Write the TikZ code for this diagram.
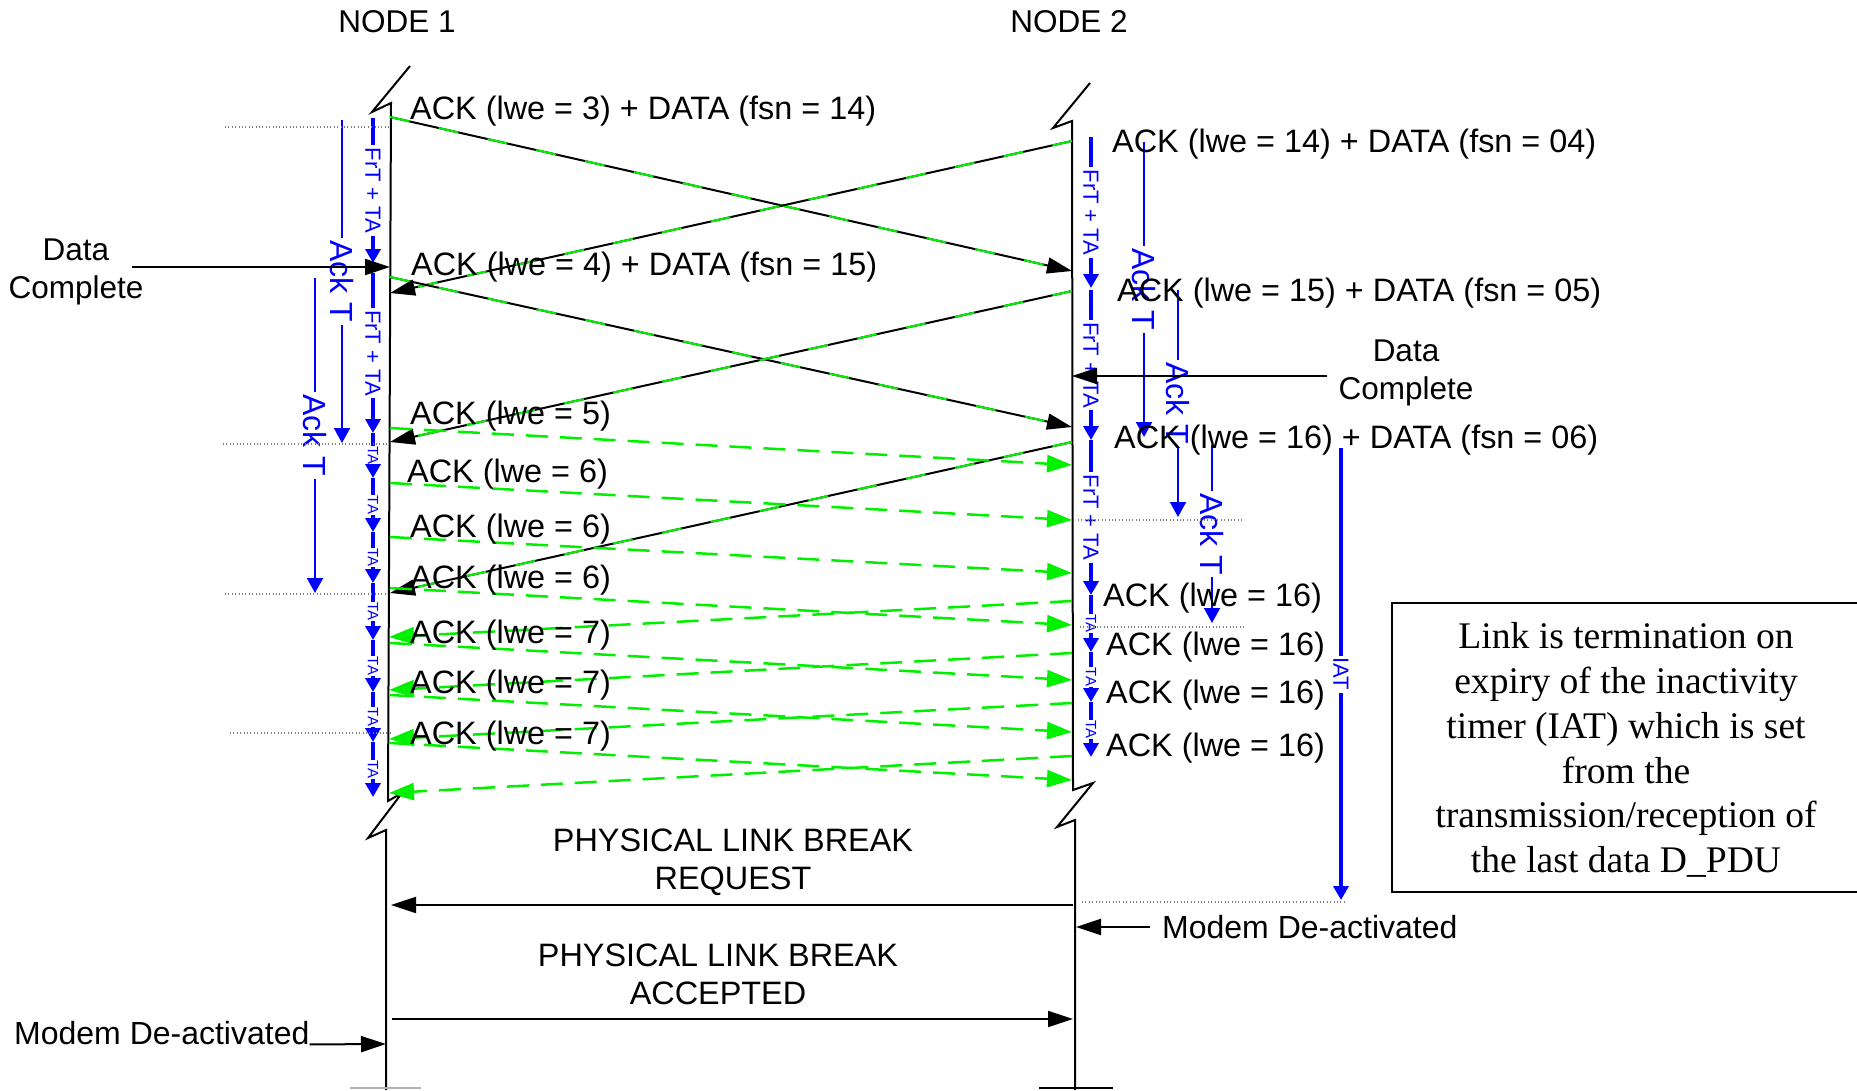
\documentclass[tikz,border=0pt]{standalone}
\usepackage{fontspec}
\setmainfont{Liberation Sans}
\newfontfamily\notefont{Liberation Serif}
\usetikzlibrary{arrows.meta}

\definecolor{tgreen}{RGB}{0,240,0}
\definecolor{tblue}{RGB}{0,0,255}

\begin{document}
\begin{tikzpicture}[x=1pt, y=-1pt,
  every node/.style={inner sep=0pt},
  lbl/.style={font=\fontsize{32.4}{38}\selectfont, anchor=west},
  ackl/.style={lbl, yshift=-3pt},
  head/.style={font=\fontsize{31.5}{38}\selectfont},
  life/.style={line width=2pt},
  msg/.style={line width=2pt, -{Triangle[length=25pt,width=16pt]}},
  mixg/.style={line width=2pt, tgreen, dash pattern=on 20pt off 30pt, shorten >=27pt},
  gmsg/.style={line width=2.5pt, tgreen, dash pattern=on 22pt off 12pt, -{Triangle[length=25pt,width=17pt]}},
  tmr/.style={line width=3.5pt, tblue},
  tmrtip/.style={tmr, -{Triangle[length=14pt,width=15pt]}},
  frt/.style={font=\fontsize{22}{24}\selectfont, text=tblue, rotate=-90, inner sep=2pt},
  ta/.style={font=\fontsize{15}{16}\selectfont, text=tblue, rotate=-90, inner sep=0.5pt},
  ackt/.style={line width=2pt, tblue},
  acktip/.style={ackt, -{Triangle[length=15pt,width=16pt]}},
  acklbl/.style={font=\fontsize{32}{38}\selectfont, text=tblue, rotate=-90, inner sep=2pt},
  dotline/.style={gray, line width=1.2pt, dash pattern=on 1pt off 2.4pt},
]
  \useasboundingbox (0,0) rectangle (1857,1090);

  % headings
  \node[head] (n1) at (397,22) {NODE 1};
  \node[head] (n2) at (1069,22) {NODE 2};

  % lifelines with the two breaks, y downward
  \draw[life] (410,66) -- (372,112) -- (391,103) -- (388,801) -- (402,793)
    -- (368,838) -- (386,830) -- (386,1090);
  \draw[life] (1090,83) -- (1053,128) -- (1072,121) -- (1073,790) -- (1093,783)
    -- (1057,827) -- (1075,820) -- (1075,1090);
  \draw[line width=2pt, gray!60] (350,1088) -- (421,1088);
  \draw[line width=2.5pt] (1039,1088) -- (1113,1088);

  % frame + ack timers
  \foreach \nm/\x/\ya/\yb/\txt in {fa/373/118/263/{FrT + TA}, fb/373/273/433/{FrT + TA},
      fc/1091/137/288/{FrT + TA}, fd/1091/290/440/{FrT + TA}, fe/1091/440/595/{FrT + TA},
      iat/1341/448/900/IAT}
  {
    \coordinate (\nm-top) at (\x,\ya);
    \coordinate (\nm-tip) at (\x,\yb);
    \node[frt] (\nm) at (\x,{(\ya+\yb)/2}) {\txt};
    \draw[tmr] (\nm-top) -- (\nm.west);
    \draw[tmrtip] (\nm.east) -- (\nm-tip);
  }
  \foreach \nm/\x/\ya/\yb in {ta1/373/433/478, ta2/373/478/532, ta3/373/532/583,
      ta4/373/583/640, ta5/373/640/692, ta6/373/692/742, ta7/373/742/797,
      tb1/1091/595/652, tb2/1091/652/702, tb3/1091/702/757}
  {
    \coordinate (\nm-top) at (\x,\ya);
    \coordinate (\nm-tip) at (\x,\yb);
    \node[ta] (\nm) at (\x,{(\ya+\yb)/2}) {TA};
    \draw[tmr] (\nm-top) -- (\nm.west);
    \draw[tmrtip] (\nm.east) -- (\nm-tip);
  }
  \foreach \nm/\x/\ya/\yb in {ak1/342/120/443, ak2/315/278/593,
      ak3/1144/142/437, ak4/1178/290/517, ak5/1212/445/623}
  {
    \coordinate (\nm-top) at (\x,\ya);
    \coordinate (\nm-tip) at (\x,\yb);
    \node[acklbl] (\nm) at (\x,{(\ya+\yb)/2}) {Ack T};
    \draw[ackt] (\nm-top) -- (\nm.west);
    \draw[acktip] (\nm.east) -- (\nm-tip);
  }

  % data + ack frames crossing
  \foreach \nm/\xa/\ya/\xb/\yb in {m1/390/117/1072/271, m2/1072/141/390/293,
      m3/390/277/1072/427, m4/1072/291/390/442, m5/1072/442/390/593}
  {
    \coordinate (\nm-s) at (\xa,\ya);
    \coordinate (\nm-e) at (\xb,\yb);
    \draw[msg] (\nm-s) -- (\nm-e);
    \draw[mixg] (\nm-s) -- (\nm-e);
  }

  % ack only frames
  \foreach \i/\ya/\yb in {1/428/465, 2/483/520, 3/537/573, 4/588/625,
      5/643/680, 6/695/732, 7/743/780}
  {
    \coordinate (gs\i) at (390,\ya);
    \coordinate (ge\i) at (1072,\yb);
    \draw[gmsg] (gs\i) -- (ge\i);
  }
  \foreach \i/\ya/\yb in {1/601/637, 2/653/690, 3/703/739, 4/756/793}
  {
    \coordinate (hs\i) at (1072,\ya);
    \coordinate (he\i) at (389,\yb);
    \draw[gmsg] (hs\i) -- (he\i);
  }

  % frame labels
  \node[ackl] (l3) at (410,108) {ACK (lwe = 3) + DATA (fsn = 14)};
  \node[ackl] (l4) at (411,264) {ACK (lwe = 4) + DATA (fsn = 15)};
  \node[ackl] (l5) at (410,413) {ACK (lwe = 5)};
  \foreach \nm/\x/\y in {l6a/407/471, l6b/410/526, l6c/410/577}
    \node[ackl] (\nm) at (\x,\y) {ACK (lwe = 6)};
  \foreach \nm/\y in {l7a/632, l7b/682, l7c/733}
    \node[ackl] (\nm) at (410,\y) {ACK (lwe = 7)};
  \node[ackl] (r14) at (1112,141) {ACK (lwe = 14) + DATA (fsn = 04)};
  \node[ackl] (r15) at (1117,290) {ACK (lwe = 15) + DATA (fsn = 05)};
  \node[ackl] (r16) at (1114,437) {ACK (lwe = 16) + DATA (fsn = 06)};
  \foreach \nm/\x/\y in {r16a/1103/595, r16b/1106/644, r16c/1106/692, r16d/1106/745}
    \node[ackl] (\nm) at (\x,\y) {ACK (lwe = 16)};

  % data complete marks
  \node[head, align=center] (dcl) at (76,272) {Data\\Complete};
  \coordinate (dcl-s) at (132,267);
  \coordinate (dcl-e) at (390,267);
  \draw[msg] (dcl-s) -- (dcl-e);
  \node[head, align=center] (dcr) at (1406,373) {Data\\Complete};
  \coordinate (dcr-s) at (1327,376);
  \coordinate (dcr-e) at (1072,376);
  \draw[msg] (dcr-s) -- (dcr-e);

  % note
  \node[draw, line width=2pt, minimum width=468pt, minimum height=289pt] (note) at (1626,747) {};
  \node[align=center, font=\notefont\fontsize{37.6}{44.8}\selectfont] (notetxt) at (1626,750)
    {Link is termination on\\expiry of the inactivity\\timer (IAT) which is set\\from the\\transmission/reception of\\the last data D\_PDU};

  % link break
  \node[lbl, anchor=center, align=center] (req) at (733,862) {PHYSICAL LINK BREAK\\REQUEST};
  \coordinate (req-s) at (1073,905);
  \coordinate (req-e) at (391,905);
  \draw[msg] (req-s) -- (req-e);
  \node[lbl, anchor=center, align=center] (acc) at (718,974) {PHYSICAL LINK BREAK\\ACCEPTED};
  \coordinate (acc-s) at (392,1019);
  \coordinate (acc-e) at (1073,1019);
  \draw[msg] (acc-s) -- (acc-e);

  % modems off
  \node[lbl, font=\fontsize{32}{38}\selectfont] (mdr) at (1162,927) {Modem De-activated};
  \coordinate (mdr-e) at (1076,927);
  \draw[msg] ([xshift=-12pt]mdr.west) -- (mdr-e);
  \node[lbl, font=\fontsize{32}{38}\selectfont] (mdl) at (14,1033) {Modem De-activated};
  \coordinate (mdl-e) at (386,1044);
  \draw[msg] (mdl.base east) -- (mdl-e);

  % dotted guide lines
  \foreach \i/\xa/\xb/\y in {1/225/390/127, 2/223/388/444, 3/225/386/594, 4/230/390/733,
      5/1078/1243/520, 6/1080/1245/627, 7/1082/1347/902}
  {
    \coordinate (dt\i) at (\xa,\y);
    \coordinate (dd\i) at (\xb,\y);
    \draw[dotline] (dt\i) -- (dd\i);
  }
\end{tikzpicture}
\end{document}
